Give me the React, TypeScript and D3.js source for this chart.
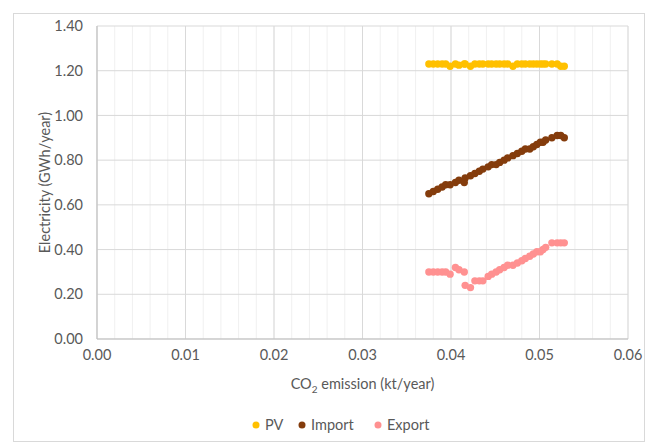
import React from 'react';
import * as d3 from 'd3';

// CO2 emission (kt/year) of each scenario point
const co2 = [
  0.0375, 0.0380, 0.0385, 0.0390, 0.0394, 0.0399, 0.0405, 0.0409, 0.0415, 0.0416,
  0.0422, 0.0427, 0.0432, 0.0436, 0.0442, 0.0446, 0.0451, 0.0455, 0.0460, 0.0464,
  0.0470, 0.0475, 0.0480, 0.0484, 0.0489, 0.0493, 0.0497, 0.0501, 0.0504, 0.0507,
  0.0514, 0.0520, 0.0524, 0.0528,
];

const pv = [
  1.23, 1.23, 1.23, 1.23, 1.23, 1.22, 1.23, 1.225, 1.23, 1.23,
  1.22, 1.23, 1.23, 1.23, 1.23, 1.23, 1.23, 1.23, 1.23, 1.23,
  1.22, 1.23, 1.23, 1.23, 1.23, 1.23, 1.23, 1.23, 1.23, 1.23,
  1.23, 1.23, 1.22, 1.22,
];

const imp = [
  0.65, 0.66, 0.67, 0.68, 0.69, 0.69, 0.70, 0.71, 0.70, 0.72,
  0.73, 0.74, 0.75, 0.76, 0.77, 0.78, 0.78, 0.79, 0.80, 0.81,
  0.82, 0.83, 0.84, 0.85, 0.85, 0.86, 0.87, 0.88, 0.88, 0.89,
  0.90, 0.91, 0.91, 0.90,
];

const exp = [
  0.30, 0.30, 0.30, 0.30, 0.30, 0.29, 0.32, 0.31, 0.30, 0.24,
  0.23, 0.26, 0.26, 0.26, 0.28, 0.29, 0.30, 0.31, 0.32, 0.33,
  0.33, 0.34, 0.35, 0.36, 0.37, 0.38, 0.39, 0.39, 0.40, 0.41,
  0.43, 0.43, 0.43, 0.43,
];

const xTicks = [0, 0.01, 0.02, 0.03, 0.04, 0.05, 0.06];
const yTicks = [0, 0.2, 0.4, 0.6, 0.8, 1.0, 1.2, 1.4];

const series = [
  { name: 'PV', values: pv, color: '#FFC000' },
  { name: 'Import', values: imp, color: '#843C0C' },
  { name: 'Export', values: exp, color: '#FF9191' },
];

const W = 649;
const H = 443;
const margin = { top: 26, right: 21, bottom: 104, left: 97 };
const font = 'Lato, "Open Sans", sans-serif';
const fs = 14.5;

export default function App() {
  const x = d3.scaleLinear().domain([0, 0.06]).range([margin.left, W - margin.right]);
  const y = d3.scaleLinear().domain([0, 1.4]).range([H - margin.bottom, margin.top]);
  const minorX = d3.range(0, 0.0601, 0.002);

  const legendX = [256, 302, 378];

  return (
    <svg width={W} height={H} style={{ position: 'absolute', left: 0, top: 0, background: '#fff' }}>
      <rect x={13.5} y={13.5} width={631} height={428} fill="#fff" stroke="#d9d9d9" />

      {/* minor vertical grid */}
      {minorX.map((v, i) => (
        <line key={'mx' + i} x1={x(v)} x2={x(v)} y1={y(1.4)} y2={y(0)} stroke="#f0f0f0" strokeWidth={1} />
      ))}
      {/* major grid */}
      {xTicks.map((v) => (
        <line key={'gx' + v} x1={x(v)} x2={x(v)} y1={y(1.4)} y2={y(0)} stroke="#d9d9d9" strokeWidth={1} />
      ))}
      {yTicks.map((v) => (
        <line key={'gy' + v} x1={x(0)} x2={x(0.06)} y1={y(v)} y2={y(v)} stroke="#d9d9d9" strokeWidth={1} />
      ))}
      <line x1={x(0)} x2={x(0.06)} y1={y(0)} y2={y(0)} stroke="#bfbfbf" />
      <line x1={x(0)} x2={x(0)} y1={y(0)} y2={y(1.4)} stroke="#bfbfbf" />

      {/* tick labels */}
      {yTicks.map((v) => (
        <text key={'ty' + v} x={x(0) - 14} y={y(v)} dy="0.35em" textAnchor="end"
          fontFamily={font} fontSize={fs} fill="#595959">{d3.format('.2f')(v)}</text>
      ))}
      {xTicks.map((v) => (
        <text key={'tx' + v} x={x(v)} y={y(0) + 21} textAnchor="middle"
          fontFamily={font} fontSize={fs} fill="#595959">{d3.format('.2f')(v)}</text>
      ))}

      {/* axis titles */}
      <text x={(x(0) + x(0.06)) / 2} y={389} textAnchor="middle" fontFamily={font} fontSize={fs} fill="#595959">
        CO<tspan fontSize={10} dy={4}>2</tspan><tspan dy={-4}> emission (kt/year)</tspan>
      </text>
      <text transform={`translate(50,${(y(0) + y(1.4)) / 2}) rotate(-90)`} textAnchor="middle"
        fontFamily={font} fontSize={fs} fill="#595959">Electricity (GWh/year)</text>

      {/* points */}
      {series.map((s) => (
        <g key={s.name}>
          {s.values.map((v, i) => (
            <circle key={i} cx={x(co2[i])} cy={y(v)} r={3.7} fill={s.color} />
          ))}
        </g>
      ))}

      {/* legend */}
      {series.map((s, i) => (
        <g key={'lg' + s.name} transform={`translate(${legendX[i]},425)`}>
          <circle cx={0} cy={0} r={3.5} fill={s.color} />
          <text x={9} y={0} dy="0.35em" fontFamily={font} fontSize={fs} fill="#595959">{s.name}</text>
        </g>
      ))}
    </svg>
  );
}
